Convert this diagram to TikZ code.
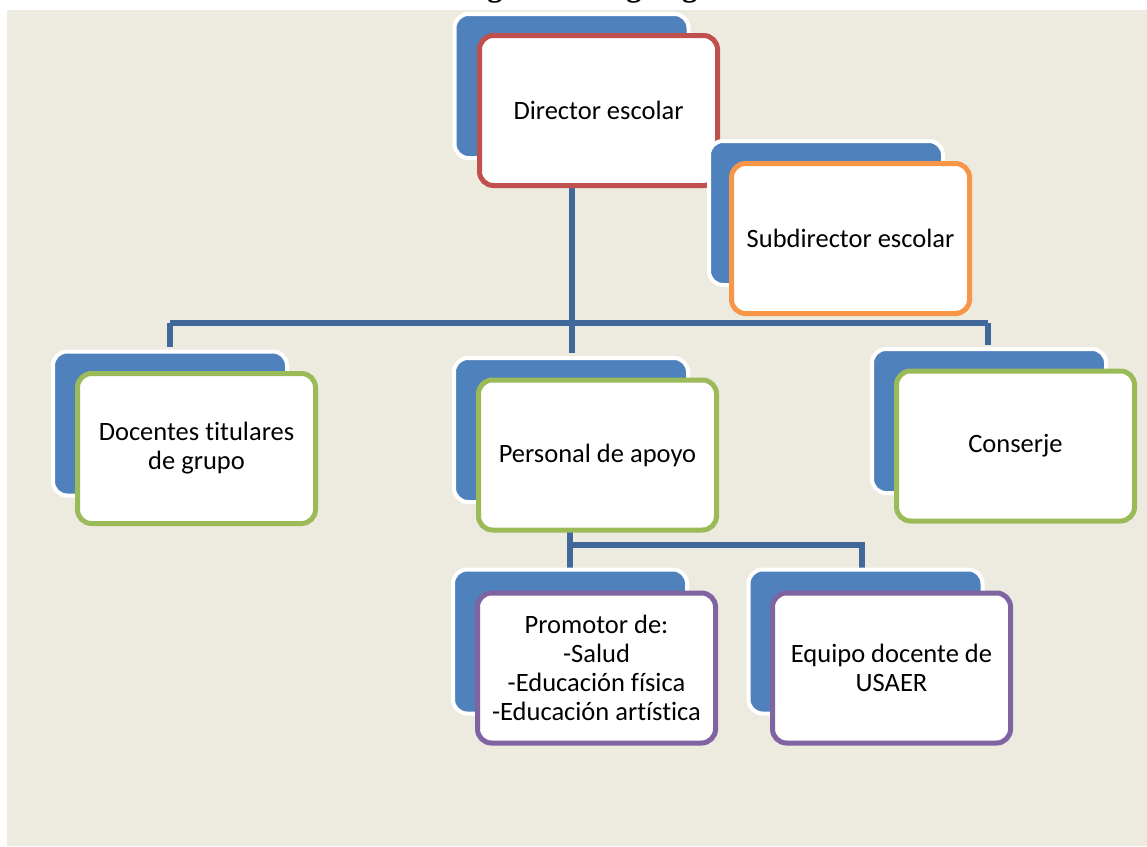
\documentclass[tikz,border=0pt]{standalone}
\usepackage{fontspec}
\setmainfont[Ligatures=NoCommon]{Carlito}
\newfontfamily\titlefont{Liberation Serif}
\definecolor{bgbeige}{HTML}{EDEAE0}
\definecolor{backblue}{HTML}{4F81BD}
\definecolor{linkblue}{HTML}{41689A}
\definecolor{redc}{HTML}{C0504D}
\definecolor{orangec}{HTML}{F79646}
\definecolor{greenc}{HTML}{9BBB59}
\definecolor{purplec}{HTML}{8064A2}
\tikzset{
  backbox/.style={fill=backblue, draw=white, line width=4pt, rounded corners=14pt,
    minimum width=234pt, minimum height=144pt, inner sep=0pt},
  frontbox/.style={fill=white, draw=#1, line width=5pt, rounded corners=14pt,
    minimum width=238pt, minimum height=150pt, inner sep=0pt, align=center,
    font=\fontsize{26.5}{29}\selectfont},
  link/.style={draw=linkblue, line width=5.5pt}
}
\begin{document}
\begin{tikzpicture}[x=1pt,y=-1pt]
\useasboundingbox (0,0) rectangle (1147,846);
\fill[white] (0,0) rectangle (1147,846);
\fill[bgbeige] (7,10) rectangle (1147,846);
% cut-off title (only descenders visible)
\begin{scope}
\clip (0,0) rectangle (1147,10);
\node[anchor=base west, inner sep=0pt, font=\titlefont\bfseries\fontsize{30.5}{31}\selectfont] (title) at (460,-4) {Figura 1. Organigrama};
\end{scope}
% coordinates for junctions
\coordinate (dirb) at (572,188);
\coordinate (j1) at (572,323);
\coordinate (jl) at (170,323);
\coordinate (jr) at (988,323);
\coordinate (doct) at (170,347);
\coordinate (pert) at (572,353);
\coordinate (cont) at (988,345);
\coordinate (perb) at (570,532);
\coordinate (j2) at (570,545);
\coordinate (j2r) at (862,545);
\coordinate (prot) at (570,568);
\coordinate (equt) at (862,568);
% connectors
\draw[link] (dirb) -- (j1);
\draw[link] (jl) -- (jr);
\draw[link] (jl) -- (doct);
\draw[link] (j1) -- (pert);
\draw[link] (jr) -- (cont);
\draw[link] (perb) -- (prot);
\draw[link] (j2) -- (j2r) -- (equt);
% Director
\node[backbox] (dirback) at (571.5,86) {};
\node[frontbox=redc] (dir) at (598.5,110.5) {Director escolar};
% Subdirector
\node[backbox] (subback) at (826,213) {};
\node[frontbox=orangec] (sub) at (850.5,238.5) {Subdirector escolar};
% Docentes
\node[backbox] (docback) at (170,423.5) {};
\node[frontbox=greenc] (doc) at (196.5,448.5) {Docentes titulares\\de grupo};
% Personal
\node[backbox] (perback) at (571,430) {};
\node[frontbox=greenc] (per) at (597.5,455) {Personal de apoyo};
% Conserje
\node[backbox] (conback) at (989,421) {};
\node[frontbox=greenc] (con) at (1015.5,446) {Conserje};
% Promotor
\node[backbox] (proback) at (570,641.5) {};
\node[frontbox=purplec] (pro) at (596.5,668) {Promotor de:\\-Salud\\-Educación física\\-Educación artística};
% Equipo
\node[backbox] (equback) at (865.5,641.5) {};
\node[frontbox=purplec] (equ) at (891.5,668) {Equipo docente de\\USAER};
\end{tikzpicture}
\end{document}
